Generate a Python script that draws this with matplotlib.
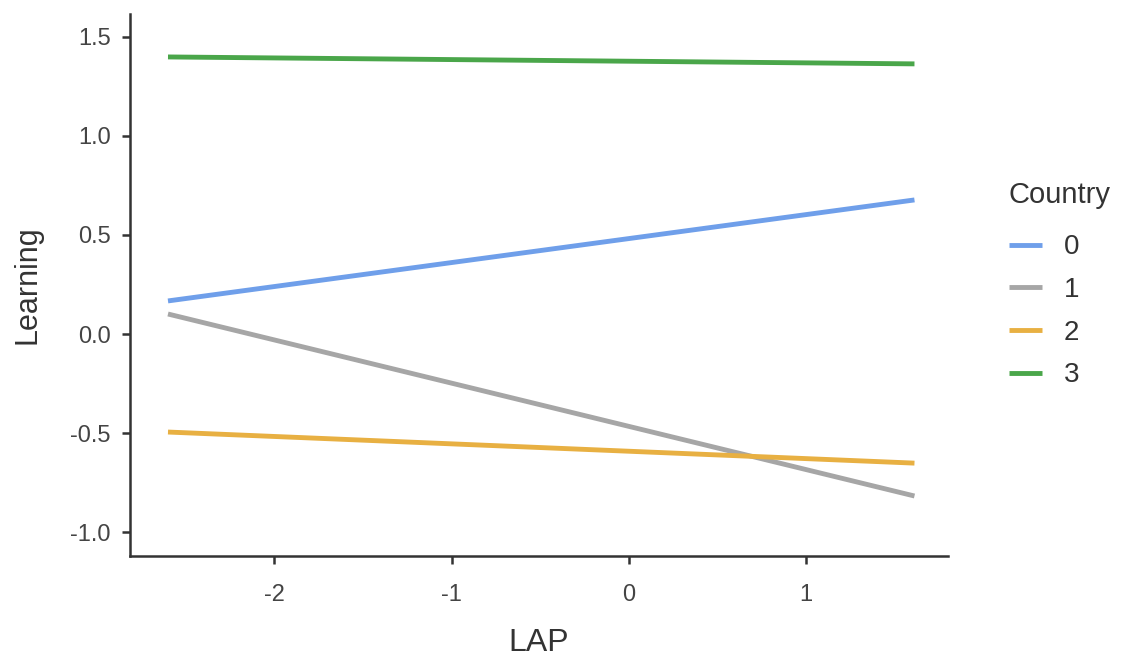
import matplotlib
matplotlib.use("Agg")
import matplotlib.pyplot as plt

plt.rcParams["font.family"] = ["Liberation Sans", "DejaVu Sans"]

# Simple slopes of Learning on LAP, one line per country
lap_range = [-2.6, 1.61]
countries = ["0", "1", "2", "3"]
learning_start = [0.167, 0.101, -0.495, 1.399]
learning_end = [0.677, -0.818, -0.652, 1.364]
colors = ["#6F9FEA", "#A6A6A6", "#E8B042", "#4AA64A"]

x_ticks = [-2, -1, 0, 1]
y_ticks = [-1.0, -0.5, 0.0, 0.5, 1.0, 1.5]

fig = plt.figure(figsize=(11.24, 6.62), dpi=100)
ax = fig.add_axes([0.1157, 0.1601, 0.7277, 0.8188])

for name, y0, y1, c in zip(countries, learning_start, learning_end, colors):
    ax.plot(lap_range, [y0, y1], color=c, linewidth=3.5, label=name,
            solid_capstyle="butt")

ax.set_xlim(-2.814, 1.799)
ax.set_ylim(-1.121, 1.616)
ax.set_xticks(x_ticks)
ax.set_xticklabels([str(t) for t in x_ticks])
ax.set_yticks(y_ticks)
ax.set_yticklabels([f"{t:.1f}" for t in y_ticks])

for side in ["top", "right"]:
    ax.spines[side].set_visible(False)
for side in ["left", "bottom"]:
    ax.spines[side].set_linewidth(1.8)
    ax.spines[side].set_color("#333333")

ax.tick_params(axis="both", length=6, width=1.8, color="#333333",
               labelsize=17, labelcolor="#444444")
ax.tick_params(axis="x", pad=14)
ax.tick_params(axis="y", pad=8)

ax.set_xlabel("LAP", fontsize=23, color="#333333", labelpad=16)
ax.set_ylabel("Learning", fontsize=22, color="#333333", labelpad=20)

leg = fig.legend(title="Country", loc="upper left",
                 bbox_to_anchor=(1003 / 1124, 1 - 175 / 662),
                 frameon=False, fontsize=20, title_fontsize=21,
                 handlelength=1.2, handletextpad=0.8, labelspacing=0.6,
                 borderaxespad=0, borderpad=0.2)
leg._legend_box.align = "left"
# extra room between the title and the first entry
leg._legend_box.sep = 18.6
for text in leg.get_texts():
    text.set_color("#333333")
leg.get_title().set_color("#333333")

fig.savefig("out.png", dpi=100, facecolor="white")
